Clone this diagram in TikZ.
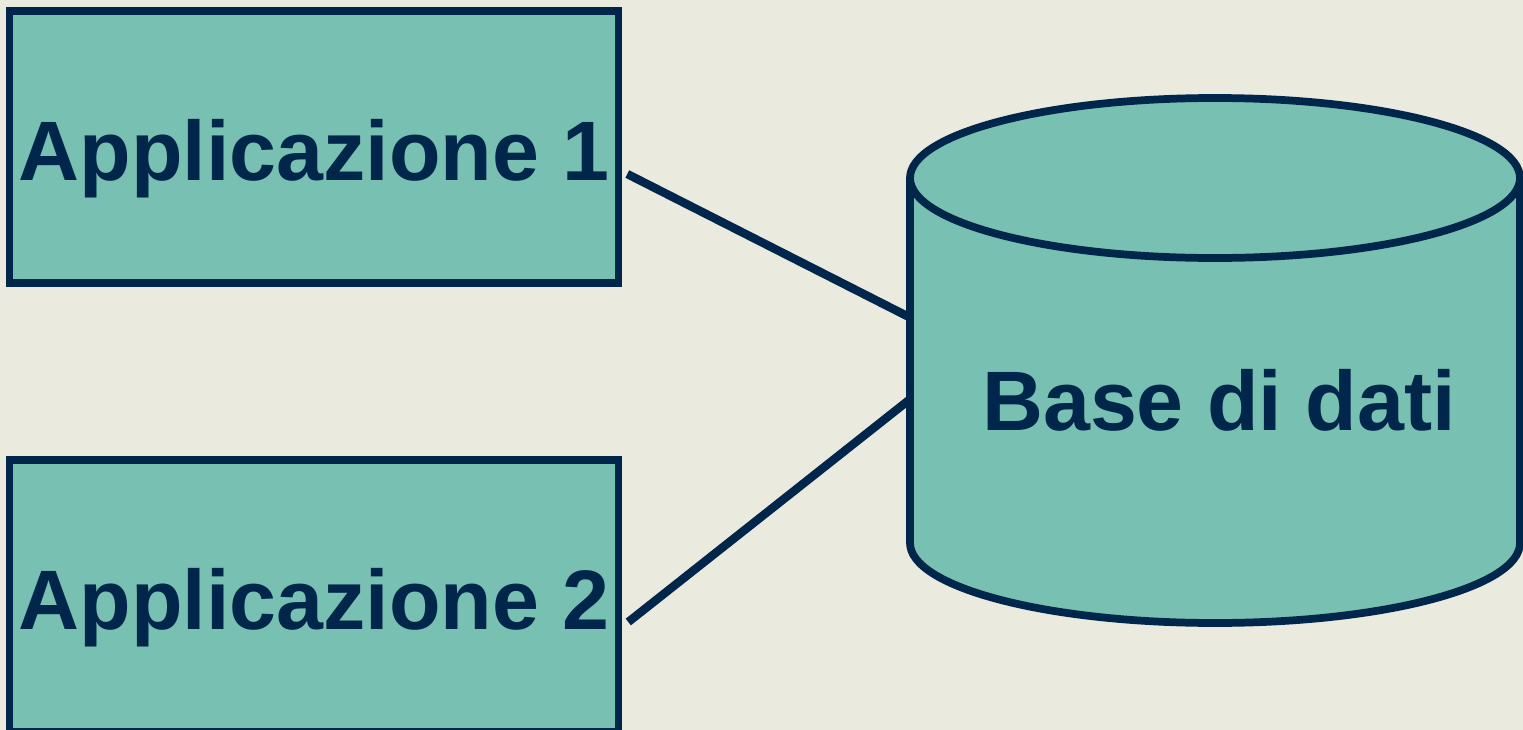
\documentclass[tikz,border=0pt]{standalone}
\usepackage{fontspec}
\setmainfont{Liberation Sans}

\definecolor{navy}{RGB}{0,38,75}
\definecolor{appfill}{RGB}{120,192,178}
\definecolor{paper}{RGB}{234,234,222}

\begin{document}
\begin{tikzpicture}[x=0.01cm, y=-0.01cm,
    app/.style={draw=navy, fill=appfill, line width=2.2pt, inner sep=0pt,
        minimum width=6.085cm, minimum height=2.725cm,
        text height=18.8pt, text depth=0pt},
    label/.style={text=navy, font=\bfseries\fontsize{24}{28}\selectfont},
    dbcyl/.style={draw=navy, fill=appfill, line width=2.2pt},
    link/.style={draw=navy, line width=2.4pt}]

    % Background
    \path[use as bounding box, fill=paper] (0,0) rectangle (1523,730);

    % Applications
    \node[app, label] (app1) at (314,147) {Applicazione 1};
    \node[app, label] (app2) at (314,596) {Applicazione 2};

    % Base di dati
    \filldraw[dbcyl] (910,178) -- (910,543)
        arc[start angle=180, end angle=0, x radius=305, y radius=80]
        -- (1520,178)
        arc[start angle=0, end angle=-180, x radius=305, y radius=80] -- cycle;
    \draw[dbcyl] (910,178) arc[start angle=180, end angle=0, x radius=305, y radius=80];
    \node[label, anchor=base] (db) at (1219,430) {Base di dati};
    \coordinate (dbin1) at (909,317);
    \coordinate (dbin2) at (909,400);

    % Links
    \draw[link] ([shift={(5,27)}]app1.east) -- (dbin1);
    \draw[link] ([shift={(6,26)}]app2.east) -- (dbin2);

\end{tikzpicture}
\end{document}
